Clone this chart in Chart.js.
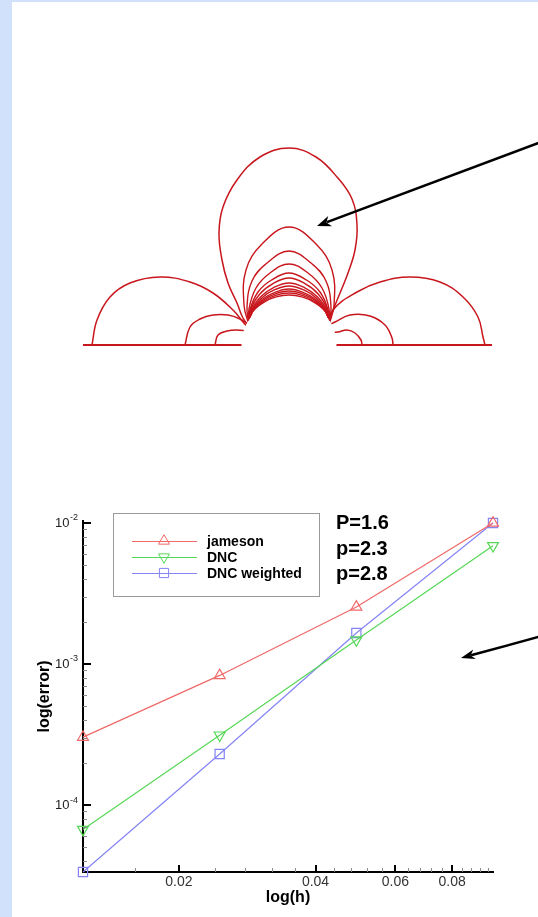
<!DOCTYPE html>
<html>
<head>
<meta charset="utf-8">
<script src="https://cdn.jsdelivr.net/npm/chart.js@4.4.0/dist/chart.umd.min.js"></script>
<style>
  html, body { margin: 0; padding: 0; }
  body { width: 538px; height: 917px; background: #d1e0fb; position: relative; overflow: hidden;
         font-family: 'Liberation Sans', Arial, sans-serif; }
  #sheet { position: absolute; left: 12px; top: 2px; right: 0; bottom: 0; background: #fff; }
  #flow { position: absolute; left: 12px; top: 100px; }
  #conv { position: absolute; left: 12px; top: 495px; }
  #orders { position: absolute; left: 336px; top: 510px; font-weight: bold; font-size: 20px;
            line-height: 25.5px; color: #000; }
  #arrows { position: absolute; left: 0; top: 0; }
</style>
</head>
<body>
<div id="sheet"></div>
<canvas id="flow" width="526" height="270"></canvas>
<canvas id="conv" width="526" height="422"></canvas>
<div id="orders"><div>P=1.6</div><div>p=2.3</div><div>p=2.8</div></div>
<svg id="arrows" width="538" height="917">
  <line x1="540" y1="142.3" x2="327" y2="222.2" stroke="#000" stroke-width="2.5"/>
  <polygon points="317,226 332,226.3 326.4,222.5 328.2,216" fill="#000"/>
  <line x1="540" y1="636.5" x2="471" y2="655.3" stroke="#000" stroke-width="2.5"/>
  <polygon points="461,658 475.8,659.1 470.6,655.4 473.2,649.5" fill="#000"/>
</svg>
<script>
// convergence study: error vs mesh size
const h = [0.0123, 0.0246, 0.0492, 0.0984];
const jameson = [3.03e-4, 8.3e-4, 2.54e-3, 1.0e-2];
const dnc = [6.7e-5, 3.13e-4, 1.48e-3, 6.9e-3];
const dncWeighted = [3.35e-5, 2.3e-4, 1.66e-3, 1.0e-2];
const seriesNames = ['jameson', 'DNC', 'DNC weighted'];

const xTicks = [0.02, 0.04, 0.06, 0.08];
const xTickLabels = ['0.02', '0.04', '0.06', '0.08'];
const xMinorTicks = [0.016, 0.024, 0.028, 0.032, 0.036, 0.044, 0.048, 0.052, 0.056,
                     0.064, 0.068, 0.072, 0.076, 0.084, 0.088, 0.092, 0.096];
const yTicks = [1e-2, 1e-3, 1e-4];
const yTickExp = ['-2', '-3', '-4'];
const yMinorTicks = [4e-5, 5e-5, 6e-5, 7e-5, 8e-5, 9e-5,
                     2e-4, 3e-4, 4e-4, 5e-4, 6e-4, 7e-4, 8e-4, 9e-4,
                     2e-3, 3e-3, 4e-3, 5e-3, 6e-3, 7e-3, 8e-3, 9e-3];
const yRange = [3.35e-5, 1.033e-2];

// contour lines around the half cylinder (cylinder radius = 48 units)
const cylR = 48;
const baseline = [[-206, 0], [203, 0]];
const outerLoop = [[-37,15],[-46,27],[-52,42],[-61,62],[-67,85],[-70,112],[-66,138],[-52,165],[-29,188],[0,197],
                   [27,188],[48,168],[63,146],[68,120],[66,95],[59,72],[51,52],[43,32],[37,15]];
const innerLoops = [
  [[-40,20],[-45,40],[-43,75],[-27,101],[0,118],[27,101],[43,75],[45,40],[40,20]],
  [[-40,20],[-42,38],[-37,64],[-22,82],[0,94],[22,82],[37,64],[42,38],[40,20]],
  [[-40,20],[-40,36],[-33,57],[-19,72],[0,81],[19,72],[33,57],[40,36],[40,20]],
  [[-40,20],[-39,35],[-31,53],[-17.5,65],[0,72],[17.5,65],[31,53],[39,35],[40,20]],
  [[-40,20],[-38.6,34.7],[-29.4,50.8],[-16.4,61.2],[0,67],[16.4,61.2],[29.4,50.8],[38.6,34.7],[40,20]],
  [[-40,20],[-38,34.2],[-28,48.5],[-15.4,57.4],[0,62],[15.4,57.4],[28,48.5],[38,34.2],[40,20]],
  [[-40,20],[-37.6,33.9],[-27.2,47.1],[-14.8,55.1],[0,59],[14.8,55.1],[27.2,47.1],[37.6,33.9],[40,20]],
  [[-40,20],[-37.2,33.5],[-26.4,45.7],[-14.1,52.7],[0,56],[14.1,52.7],[26.4,45.7],[37.2,33.5],[40,20]],
  [[-40,20],[-37,33.3],[-25.9,44.8],[-13.7,51.2],[0,54],[13.7,51.2],[25.9,44.8],[37,33.3],[40,20]],
  [[-40,20],[-36.8,33.1],[-25.3,43.8],[-13.3,49.7],[0,52],[13.3,49.7],[25.3,43.8],[36.8,33.1],[40,20]],
  [[-40,20],[-36.6,32.9],[-24.8,42.9],[-12.9,48.1],[0,50],[12.9,48.1],[24.8,42.9],[36.6,32.9],[40,20]]
];
const leftLobes = [
  [[-197,0],[-192,25],[-179,48],[-159,62],[-129,68],[-99,63],[-76,52],[-56,35],[-46,23],[-37,13]],
  [[-104,0],[-99,18],[-89,26],[-76,30],[-61,30],[-49,26],[-40,20]],
  [[-74,0],[-71,10],[-62,14],[-52,15],[-42,14]]
];
const rightLobes = [
  [[38,14],[44,35],[68,53],[91,63],[121,68],[151,63],[174,48],[189,28],[194,8],[196,0]],
  [[40,20],[46,23],[61,30],[81,29],[96,20],[103,7],[104,0]],
  [[40,12],[49,13],[58,15],[66,12],[72,5],[73,0]]
];

const family = "'Liberation Sans', Arial, sans-serif";
Chart.defaults.font.family = family;
Chart.defaults.color = '#000';

// ---------- top picture ----------
const red = '#c8161d';
const toXY = pts => pts.map(p => ({x: p[0], y: p[1]}));
const curve = (pts, w) => ({
  data: toXY(pts), showLine: true, tension: 0.4, borderColor: red, borderWidth: w,
  pointRadius: 0, clip: false
});

// hide everything inside the cylinder and below the wall
const cylinderClip = {
  id: 'cylinderClip',
  beforeDatasetsDraw(chart) {
    const {ctx, scales: {x, y}} = chart;
    const cx = x.getPixelForValue(0), cy = y.getPixelForValue(0);
    const r = x.getPixelForValue(cylR - 0.5) - cx;
    ctx.save();
    ctx.beginPath();
    ctx.rect(0, 0, chart.width, y.getPixelForValue(-1.5));
    ctx.moveTo(cx + r, cy);
    ctx.arc(cx, cy, r, 0, Math.PI * 2);
    ctx.clip('evenodd');
  },
  afterDatasetsDraw(chart) {
    chart.ctx.restore();
  }
};

new Chart(document.getElementById('flow'), {
  type: 'scatter',
  data: {
    datasets: [curve(baseline, 2), curve(outerLoop, 1.5)]
      .concat(innerLoops.map(p => curve(p, 1.4)))
      .concat(leftLobes.map(p => curve(p, 1.5)))
      .concat(rightLobes.map(p => curve(p, 1.5)))
  },
  options: {
    responsive: false,
    animation: false,
    layout: {padding: 0},
    plugins: {legend: {display: false}, tooltip: {enabled: false}},
    scales: {
      x: {type: 'linear', min: -277, max: 249, display: false},
      y: {type: 'linear', min: -25, max: 245, display: false}
    }
  },
  plugins: [cylinderClip]
});

// ---------- convergence plot ----------
const lineColors = ['#f06868', '#55d855', '#8484f4'];
const pointStyles = ['triangle', 'triangle', 'rect'];
const pointRotations = [0, 180, 0];
const errSeries = [jameson, dnc, dncWeighted];

function marker(ctx, style, rot, cx, cy, r) {
  ctx.beginPath();
  if (style === 'rect') {
    const s = r * Math.SQRT1_2;
    ctx.rect(cx - s, cy - s, 2 * s, 2 * s);
  } else {
    let a = rot * Math.PI / 180;
    for (let k = 0; k < 3; k++) {
      const px = cx + Math.sin(a) * r, py = cy - Math.cos(a) * r;
      if (k) ctx.lineTo(px, py); else ctx.moveTo(px, py);
      a += 2 * Math.PI / 3;
    }
    ctx.closePath();
  }
  ctx.stroke();
}

const axisDecor = {
  id: 'axisDecor',
  afterDraw(chart) {
    const {ctx, chartArea: a, scales: {x, y}} = chart;
    ctx.save();
    // minor ticks, pointing inward
    ctx.strokeStyle = '#8a8a8a';
    ctx.lineWidth = 1;
    ctx.beginPath();
    xMinorTicks.forEach(v => {
      const px = Math.round(x.getPixelForValue(v)) + 0.5;
      ctx.moveTo(px, a.bottom); ctx.lineTo(px, a.bottom - 4);
    });
    yMinorTicks.forEach(v => {
      const py = Math.round(y.getPixelForValue(v)) + 0.5;
      ctx.moveTo(a.left, py); ctx.lineTo(a.left + 4, py);
    });
    ctx.stroke();
    // major ticks
    ctx.strokeStyle = '#000';
    ctx.lineWidth = 2;
    ctx.beginPath();
    xTicks.forEach(v => {
      const px = Math.round(x.getPixelForValue(v));
      ctx.moveTo(px, a.bottom); ctx.lineTo(px, a.bottom - 7);
    });
    yTicks.forEach(v => {
      const py = Math.round(y.getPixelForValue(v));
      ctx.moveTo(a.left, py); ctx.lineTo(a.left + 8, py);
    });
    ctx.stroke();
    // y labels as powers of ten
    ctx.fillStyle = '#222';
    ctx.textBaseline = 'middle';
    yTicks.forEach((v, i) => {
      const py = y.getPixelForValue(v);
      ctx.font = '9px ' + family;
      ctx.textAlign = 'left';
      ctx.fillText(yTickExp[i], a.left - 13, py - 5);
      ctx.font = '13px ' + family;
      ctx.textAlign = 'right';
      ctx.fillText('10', a.left - 13.5, py + 0.5);
    });
    // legend box
    ctx.strokeStyle = '#9a9a9a';
    ctx.lineWidth = 1;
    ctx.strokeRect(101.5, 18.5, 206, 83);
    chart.data.datasets.forEach((ds, i) => {
      const ry = 46 + i * 16;
      ctx.strokeStyle = ds.borderColor;
      ctx.lineWidth = 1;
      ctx.beginPath();
      ctx.moveTo(120, ry + 0.5); ctx.lineTo(185, ry + 0.5);
      ctx.stroke();
      marker(ctx, ds.pointStyle, ds.pointRotation, 152, ry, ds.pointRadius);
      ctx.fillStyle = '#000';
      ctx.font = 'bold 14px ' + family;
      ctx.textAlign = 'left';
      ctx.fillText(ds.label, 195, ry + 1);
    });
    ctx.restore();
  }
};

new Chart(document.getElementById('conv'), {
  type: 'scatter',
  data: {
    datasets: errSeries.map((vals, i) => ({
      label: seriesNames[i],
      data: h.map((hv, j) => ({x: hv, y: vals[j]})),
      showLine: true,
      borderColor: lineColors[i],
      borderWidth: 1.2,
      pointStyle: pointStyles[i],
      pointRotation: pointRotations[i],
      pointRadius: i === 2 ? 6.5 : 6.3,
      pointBorderColor: lineColors[i],
      pointBackgroundColor: 'rgba(0,0,0,0)',
      pointBorderWidth: 1.2,
      clip: false
    }))
  },
  options: {
    responsive: false,
    animation: false,
    layout: {padding: {left: 0, right: 45, top: 26, bottom: 0}},
    plugins: {legend: {display: false}, tooltip: {enabled: false}},
    scales: {
      x: {
        type: 'logarithmic',
        min: h[0],
        max: h[h.length - 1],
        afterBuildTicks: s => { s.ticks = xTicks.map(v => ({value: v})); },
        afterFit: s => { s.height = 45; },
        grid: {display: false, drawTicks: false},
        border: {display: true, color: '#000', width: 2},
        ticks: {
          callback: (v, i) => xTickLabels[i],
          autoSkip: false, maxRotation: 0, padding: 2, color: '#333',
          font: {size: 14}
        },
        title: {display: true, text: 'log(h)', color: '#000',
                font: {size: 16, weight: 'bold'}, padding: {top: 0, bottom: 10}}
      },
      y: {
        type: 'logarithmic',
        min: yRange[0],
        max: yRange[1],
        afterBuildTicks: s => { s.ticks = yTicks.map(v => ({value: v})); },
        afterFit: s => { s.width = 71; },
        grid: {display: false, drawTicks: false},
        border: {display: true, color: '#000', width: 2},
        ticks: {display: false},
        title: {display: true, text: 'log(error)', color: '#000',
                font: {size: 16, weight: 'bold'}, padding: {top: 23, bottom: 0}}
      }
    }
  },
  plugins: [axisDecor]
});
</script>
</body>
</html>
